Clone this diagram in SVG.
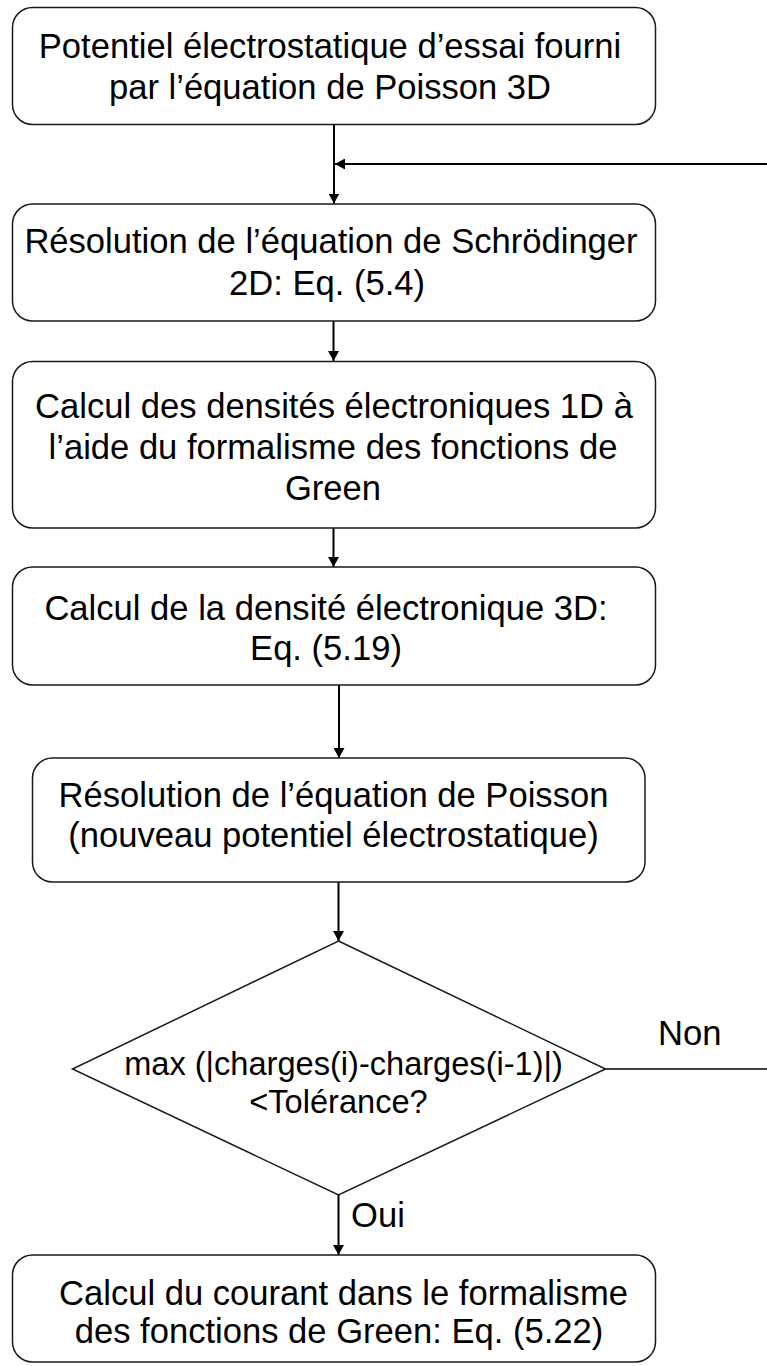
<svg xmlns="http://www.w3.org/2000/svg" width="767" height="1366" viewBox="0 0 767 1366">
  <style>
    .box { fill: #ffffff; stroke: #1a1a1a; stroke-width: 1.5; }
    .lbl { font-family: "Liberation Sans", Arial, sans-serif; font-size: 34.6px; fill: #000000; text-anchor: middle; }
    .dlbl { font-family: "Liberation Sans", Arial, sans-serif; font-size: 32.6px; fill: #000000; text-anchor: middle; }
    .elbl { font-family: "Liberation Sans", Arial, sans-serif; font-size: 34.6px; fill: #000000; text-anchor: start; }
    .conn { fill: none; stroke: #000000; stroke-width: 2; }
    .thin { fill: none; stroke: #000000; stroke-width: 1.5; }
  </style>
  <defs>
    <marker id="arrow" viewBox="0 0 10 11" refX="10" refY="5.5" markerWidth="10" markerHeight="11" markerUnits="userSpaceOnUse" orient="auto">
      <path d="M0,0 L10,5.5 L0,11 Z" fill="#000000"/>
    </marker>
  </defs>
  <rect width="767" height="1366" fill="#ffffff"/>

  <g id="connectors">
    <line class="conn" x1="334" y1="125" x2="334" y2="203.5" marker-end="url(#arrow)"/>
    <line class="conn" x1="767" y1="164" x2="335" y2="164" stroke-width="2.6" marker-end="url(#arrow)"/>
    <line class="conn" x1="333.5" y1="321" x2="333.5" y2="361" marker-end="url(#arrow)"/>
    <line class="conn" x1="333.5" y1="528" x2="333.5" y2="567" marker-end="url(#arrow)"/>
    <line class="conn" x1="339" y1="685" x2="339" y2="758" marker-end="url(#arrow)"/>
    <line class="conn" x1="338.5" y1="882" x2="338.5" y2="941" marker-end="url(#arrow)"/>
    <line class="conn" x1="338.5" y1="1195" x2="338.5" y2="1255" marker-end="url(#arrow)"/>
    <line class="thin" x1="605.5" y1="1069" x2="767" y2="1069"/>
    <text class="elbl" x="658" y="1045">Non</text>
    <text class="elbl" x="351" y="1227">Oui</text>
  </g>

  <g id="node1">
    <rect class="box" x="12.5" y="7.5" width="643" height="117" rx="20" ry="20"/>
    <text class="lbl" x="330" y="58.3">Potentiel électrostatique d’essai fourni</text>
    <text class="lbl" x="330" y="99.3">par l’équation de Poisson 3D</text>
  </g>

  <g id="node2">
    <rect class="box" x="12.5" y="204" width="643" height="117" rx="20" ry="20"/>
    <text class="lbl" x="331" y="253.3">Résolution de l’équation de Schrödinger</text>
    <text class="lbl" x="327" y="295">2D: Eq. (5.4)</text>
  </g>

  <g id="node3">
    <rect class="box" x="12.5" y="361.5" width="643" height="166.5" rx="20" ry="20"/>
    <text class="lbl" x="334" y="418">Calcul des densités électroniques 1D à</text>
    <text class="lbl" x="333" y="459">l’aide du formalisme des fonctions de</text>
    <text class="lbl" x="333" y="499.5">Green</text>
  </g>

  <g id="node4">
    <rect class="box" x="12.5" y="567" width="643" height="118" rx="20" ry="20"/>
    <text class="lbl" x="326" y="620">Calcul de la densité électronique 3D:</text>
    <text class="lbl" x="326" y="660">Eq. (5.19)</text>
  </g>

  <g id="node5">
    <rect class="box" x="32.5" y="758" width="612.5" height="124" rx="20" ry="20"/>
    <text class="lbl" x="333.5" y="807">Résolution de l’équation de Poisson</text>
    <text class="lbl" x="333.5" y="847">(nouveau potentiel électrostatique)</text>
  </g>

  <g id="node6">
    <polygon class="box" points="338.5,941 605.5,1069 338.5,1195 72.5,1069"/>
    <text class="dlbl" x="343.5" y="1075">max (|charges(i)-charges(i-1)|)</text>
    <text class="dlbl" x="338.5" y="1113">&lt;Tolérance?</text>
  </g>

  <g id="node7">
    <rect class="box" x="12.5" y="1255" width="643" height="107" rx="20" ry="20"/>
    <text class="lbl" x="343.5" y="1305">Calcul du courant dans le formalisme</text>
    <text class="lbl" x="339" y="1343">des fonctions de Green: Eq. (5.22)</text>
  </g>
</svg>
